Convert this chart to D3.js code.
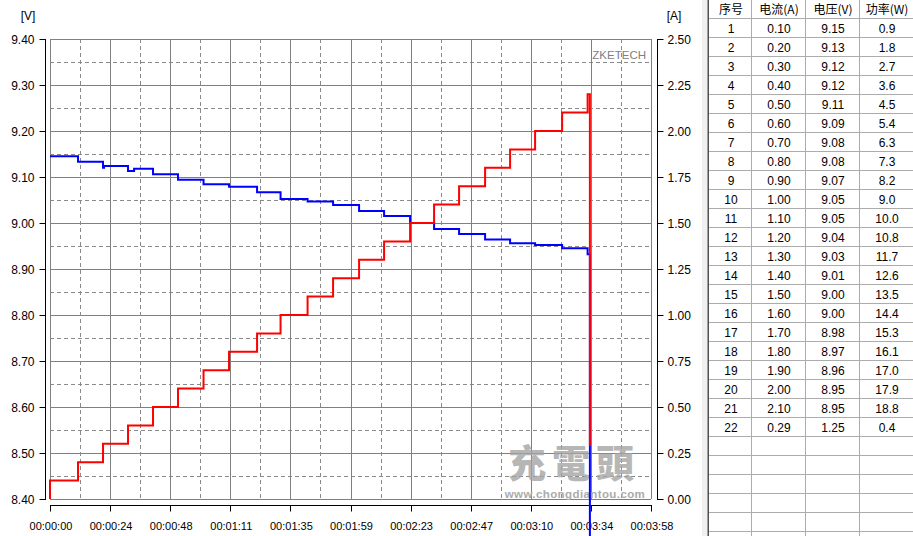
<!DOCTYPE html>
<html>
<head>
<meta charset="utf-8">
<script src="https://cdn.jsdelivr.net/npm/d3@7/dist/d3.min.js"></script>
<style>
  html, body { margin: 0; padding: 0; background: #fff; }
  svg { display: block; }
  text { font-family: "Liberation Sans", Arial, sans-serif; }
</style>
</head>
<body>
<svg id="chart" width="913" height="536"></svg>
<script>
// ---- Data ----
// Current trace: step series (time in s, current in A)
const currentTimes  = [0, 0, 11.1, 21.0, 30.9, 40.8, 50.7, 60.8, 70.9, 82.0, 91.3, 102.0, 112.1, 122.4, 132.3, 142.6, 152.1, 162.0, 172.3, 182.2, 192.1, 202.8, 212.9, 213.8];
const currentValues = [0, 0.10, 0.20, 0.30, 0.40, 0.50, 0.60, 0.70, 0.80, 0.90, 1.00, 1.10, 1.20, 1.30, 1.40, 1.50, 1.60, 1.70, 1.80, 1.90, 2.00, 2.10, 2.20, 0.29];
// Voltage trace: step series (time in s, voltage in V)
const voltageTimes  = [0, 11.1, 21.0, 21.4, 30.9, 33.3, 40.8, 50.7, 60.8, 70.9, 82.0, 91.3, 102.0, 112.1, 122.4, 132.3, 142.6, 152.1, 162.0, 172.3, 182.2, 192.1, 202.8, 212.9, 213.8];
const voltageValues = [9.145, 9.133, 9.120, 9.124, 9.113, 9.118, 9.106, 9.094, 9.084, 9.079, 9.067, 9.052, 9.047, 9.039, 9.026, 9.015, 9.000, 8.987, 8.976, 8.964, 8.956, 8.952, 8.945, 8.932, 1.25];

// Axes
const timeTickLabels = ["00:00:00","00:00:24","00:00:48","00:01:11","00:01:35","00:01:59","00:02:23","00:02:47","00:03:10","00:03:34","00:03:58"];
const voltTicks = [8.40, 8.50, 8.60, 8.70, 8.80, 8.90, 9.00, 9.10, 9.20, 9.30, 9.40];
const ampTicks  = [0.00, 0.25, 0.50, 0.75, 1.00, 1.25, 1.50, 1.75, 2.00, 2.25, 2.50];
const timeMax = 238;

// Table
const tableHeaders = ["序号", "电流(A)", "电压(V)", "功率(W)"];
const tableIndex   = [1,2,3,4,5,6,7,8,9,10,11,12,13,14,15,16,17,18,19,20,21,22];
const tableCurrent = ["0.10","0.20","0.30","0.40","0.50","0.60","0.70","0.80","0.90","1.00","1.10","1.20","1.30","1.40","1.50","1.60","1.70","1.80","1.90","2.00","2.10","0.29"];
const tableVoltage = ["9.15","9.13","9.12","9.12","9.11","9.09","9.08","9.08","9.07","9.05","9.05","9.04","9.03","9.01","9.00","9.00","8.98","8.97","8.96","8.95","8.95","1.25"];
const tablePower   = ["0.9","1.8","2.7","3.6","4.5","5.4","6.3","7.3","8.2","9.0","10.0","10.8","11.7","12.6","13.5","14.4","15.3","16.1","17.0","17.9","18.8","0.4"];

// ---- Layout ----
const L = 50, R = 651, T = 39, B = 499;
const svg = d3.select("#chart");

const x  = d3.scaleLinear().domain([0, timeMax]).range([L, R]);
const yV = d3.scaleLinear().domain([8.4, 9.4]).range([B, T]);
const yA = d3.scaleLinear().domain([0, 2.5]).range([B, T]);

const grid = svg.append("g");
// Horizontal grid
const hMinor = d3.range(0, 10).map(i => 8.45 + i * 0.1);
grid.selectAll("line.hm").data(hMinor).enter().append("line")
  .attr("x1", L).attr("x2", R)
  .attr("y1", d => Math.round(yV(d)) + 0.5).attr("y2", d => Math.round(yV(d)) + 0.5)
  .attr("stroke", "#8a8a8a").attr("stroke-dasharray", "4,3");
grid.selectAll("line.hM").data(voltTicks).enter().append("line")
  .attr("x1", L).attr("x2", R)
  .attr("y1", d => Math.round(yV(d)) + 0.5).attr("y2", d => Math.round(yV(d)) + 0.5)
  .attr("stroke", "#808080");
// Vertical grid
const step = timeMax / 10;
const vMinor = d3.range(0, 10).map(i => step / 2 + i * step);
const vMajor = d3.range(0, 11).map(i => i * step);
grid.selectAll("line.vm").data(vMinor).enter().append("line")
  .attr("y1", T).attr("y2", B)
  .attr("x1", d => Math.round(x(d)) + 0.5).attr("x2", d => Math.round(x(d)) + 0.5)
  .attr("stroke", "#8a8a8a").attr("stroke-dasharray", "4,3");
grid.selectAll("line.vM").data(vMajor).enter().append("line")
  .attr("y1", T).attr("y2", B)
  .attr("x1", d => Math.round(x(d)) + 0.5).attr("x2", d => Math.round(x(d)) + 0.5)
  .attr("stroke", "#808080");

// ZKETECH label
svg.append("text").attr("x", 646).attr("y", 59).attr("text-anchor", "end")
  .attr("font-size", 11.5).attr("fill", "#808080").text("ZKETECH");

// Watermark
svg.append("text").attr("x", 574).attr("y", 460).attr("text-anchor", "middle")
  .attr("dominant-baseline", "central")
  .style("font-family", "'Noto Sans CJK SC', sans-serif").attr("font-weight", 900)
  .attr("font-size", 38).attr("letter-spacing", 6).attr("fill", "#a4a4a4").attr("opacity", 0.8).text("充電頭");
svg.append("text").attr("x", 575).attr("y", 498).attr("text-anchor", "middle")
  .attr("font-weight", "bold").attr("font-size", 11.5).attr("letter-spacing", 0.4)
  .attr("fill", "#ababab").text("www.chongdiantou.com");

// Left axis
const gL = svg.append("g").attr("transform", "translate(45.5,0)");
gL.append("line").attr("x1", 0).attr("x2", 0).attr("y1", T).attr("y2", B + 1).attr("stroke", "#000");
gL.selectAll("line.t").data(voltTicks).enter().append("line")
  .attr("x1", -6).attr("x2", 0)
  .attr("y1", d => Math.round(yV(d)) + 0.5).attr("y2", d => Math.round(yV(d)) + 0.5).attr("stroke", "#000");
gL.selectAll("text").data(voltTicks).enter().append("text")
  .attr("x", -11).attr("y", d => yV(d) + 1).attr("dy", "0.35em").attr("text-anchor", "end")
  .attr("font-size", 12).attr("fill", "#000").text(d => d.toFixed(2));
svg.append("text").attr("x", 28).attr("y", 16).attr("dy", "0.35em").attr("text-anchor", "middle")
  .attr("font-size", 12).text("[V]");

// Right axis
const gR = svg.append("g").attr("transform", "translate(657.5,0)");
gR.append("line").attr("x1", 0).attr("x2", 0).attr("y1", T).attr("y2", B + 1).attr("stroke", "#000");
gR.selectAll("line.t").data(ampTicks).enter().append("line")
  .attr("x1", 0).attr("x2", 6)
  .attr("y1", d => Math.round(yA(d)) + 0.5).attr("y2", d => Math.round(yA(d)) + 0.5).attr("stroke", "#000");
gR.selectAll("text").data(ampTicks).enter().append("text")
  .attr("x", 10).attr("y", d => yA(d) + 1).attr("dy", "0.35em").attr("text-anchor", "start")
  .attr("font-size", 12).attr("fill", "#000").text(d => d.toFixed(2));
svg.append("text").attr("x", 674).attr("y", 16).attr("dy", "0.35em").attr("text-anchor", "middle")
  .attr("font-size", 12).text("[A]");

// Bottom axis
const gB = svg.append("g").attr("transform", "translate(0,505.5)");
gB.append("line").attr("x1", L).attr("x2", R + 1).attr("y1", 0).attr("y2", 0).attr("stroke", "#000");
gB.selectAll("line.t").data(vMajor).enter().append("line")
  .attr("x1", d => Math.round(x(d)) + 0.5).attr("x2", d => Math.round(x(d)) + 0.5)
  .attr("y1", 0).attr("y2", 6).attr("stroke", "#000");
gB.selectAll("text").data(vMajor).enter().append("text")
  .attr("x", d => x(d) + 1).attr("y", 21).attr("dy", "0.35em").attr("text-anchor", "middle")
  .attr("font-size", 11).attr("fill", "#000").text((d, i) => timeTickLabels[i]);

// Data lines
const vData = voltageTimes.map((t, i) => [t, voltageValues[i]]);
const aData = currentTimes.map((t, i) => [t, currentValues[i]]);
const vLine = d3.line().x(d => x(d[0])).y(d => yV(d[1])).curve(d3.curveStepAfter);
const aLine = d3.line().x(d => x(d[0])).y(d => yA(d[1])).curve(d3.curveStepAfter);
svg.append("path").datum(vData).attr("d", vLine)
  .attr("fill", "none").attr("stroke", "#0000ff").attr("stroke-width", 2);
svg.append("path").datum(aData).attr("d", aLine)
  .attr("fill", "none").attr("stroke", "#ff0000").attr("stroke-width", 2);

// ---- Table ----
const TX = 709, rowH = 19, headH = 18.5;
const colEdges = [709, 751, 805, 859, 913];
svg.append("rect").attr("x", 702).attr("y", 0).attr("width", 6).attr("height", 536).attr("fill", "#f0f0f0");
svg.append("rect").attr("x", 707.5).attr("y", 0).attr("width", 1.5).attr("height", 536).attr("fill", "#505050");
const tg = svg.append("g");
const rowLines = d3.range(0, 28).map(i => headH + i * rowH);
tg.selectAll("line.r").data(rowLines).enter().append("line")
  .attr("x1", TX).attr("x2", 913).attr("y1", d => Math.floor(d) + 0.5).attr("y2", d => Math.floor(d) + 0.5)
  .attr("stroke", "#acacac");
tg.selectAll("line.c").data(colEdges.slice(1, 4)).enter().append("line")
  .attr("x1", d => d + 0.5).attr("x2", d => d + 0.5).attr("y1", 0).attr("y2", 536)
  .attr("stroke", "#acacac");
const colCenter = i => (colEdges[i] + colEdges[i + 1]) / 2 + 1;
tg.selectAll("text.h").data(tableHeaders).enter().append("text")
  .attr("x", (d, i) => colCenter(i)).attr("y", 10).attr("dy", "0.35em").attr("text-anchor", "middle")
  .style("font-family", "'Noto Sans CJK SC', sans-serif").attr("font-size", 12).text(d => d);
const cols = [tableIndex.map(String), tableCurrent, tableVoltage, tablePower];
cols.forEach((col, ci) => {
  tg.selectAll("text.c" + ci).data(col).enter().append("text")
    .attr("x", colCenter(ci)).attr("y", (d, i) => headH + i * rowH + rowH / 2 + 0.5)
    .attr("dy", "0.35em").attr("text-anchor", "middle").attr("font-size", 12).text(d => d);
});
</script>
</body>
</html>
